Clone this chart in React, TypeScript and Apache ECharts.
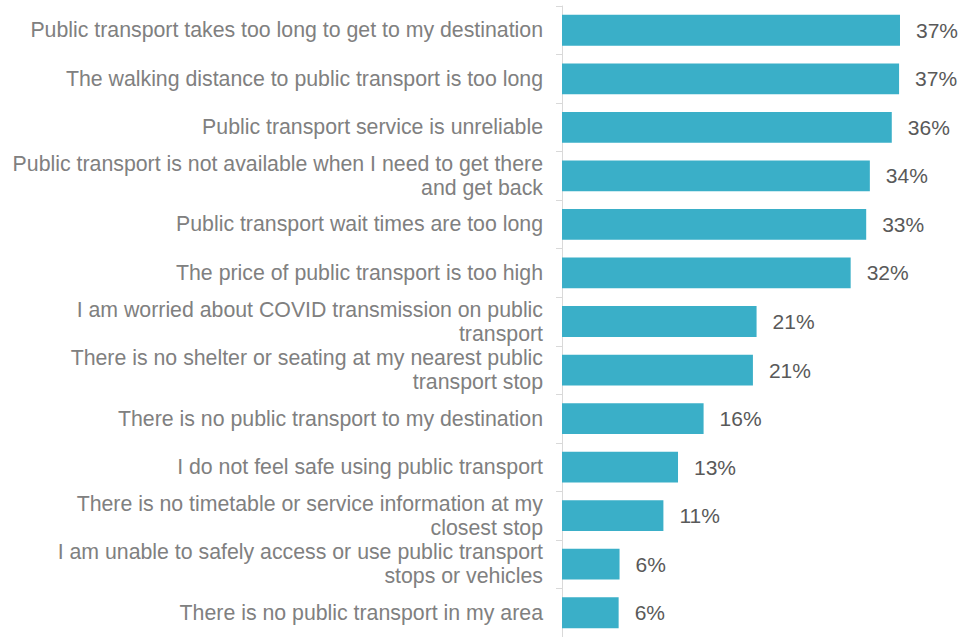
import React, { useEffect, useRef } from "react";
import * as echarts from "echarts";

const categories: string[] = [
  "Public transport takes too long to get to my destination",
  "The walking distance to public transport is too long",
  "Public transport service is unreliable",
  "Public transport is not available when I need to get there\nand get back",
  "Public transport wait times are too long",
  "The price of public transport is too high",
  "I am worried about COVID transmission on public\ntransport",
  "There is no shelter or seating at my nearest public\ntransport stop",
  "There is no public transport to my destination",
  "I do not feel safe using public transport",
  "There is no timetable or service information at my\nclosest stop",
  "I am unable to safely access or use public transport\nstops or vehicles",
  "There is no public transport in my area",
];

const shares: number[] = [37.0, 36.9, 36.1, 33.7, 33.3, 31.6, 21.3, 20.9, 15.5, 12.7, 11.1, 6.3, 6.2];

const FONT = "'Liberation Sans', Arial, sans-serif";

export default function App() {
  const ref = useRef<HTMLDivElement>(null);
  useEffect(() => {
    if (!ref.current) return;
    const chart = echarts.init(ref.current, null, { renderer: "svg" });
    chart.setOption({
      animation: false,
      backgroundColor: "#ffffff",
      grid: { left: 562, top: 6, width: 365.4, height: 635 },
      xAxis: {
        type: "value",
        min: 0,
        max: 40,
        show: false,
      },
      yAxis: {
        type: "category",
        inverse: true,
        data: categories,
        axisLine: { show: true, lineStyle: { color: "#d9d9d9", width: 1 } },
        axisTick: { show: true, length: 6, lineStyle: { color: "#d9d9d9" } },
        axisLabel: {
          margin: 19,
          color: "#808080",
          fontSize: 21.3,
          fontFamily: FONT,
          lineHeight: 24,
          align: "right",
        },
        splitLine: { show: false },
      },
      series: [
        {
          type: "bar",
          data: shares,
          barCategoryGap: "36.5%",
          itemStyle: { color: "#3aafc8" },
          label: {
            show: true,
            position: "right",
            distance: 16,
            color: "#595959",
            fontSize: 21,
            fontFamily: FONT,
            formatter: (p: any) => Math.round(p.value) + "%",
          },
        },
      ],
    });
    return () => chart.dispose();
  }, []);
  return (
    <div
      ref={ref}
      style={{ position: "fixed", left: 0, top: 0, width: 960, height: 637, background: "#fff" }}
    />
  );
}
